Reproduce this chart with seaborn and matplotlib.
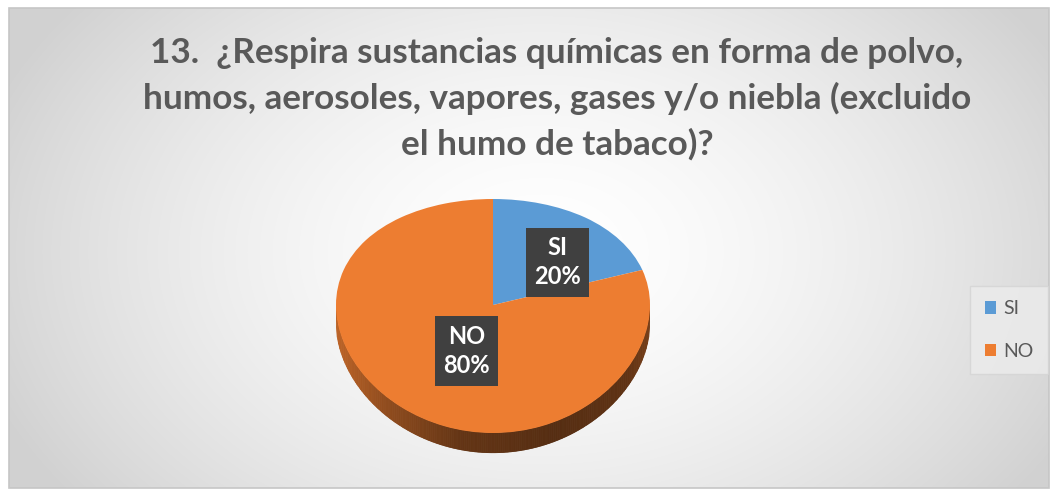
import numpy as np
import matplotlib
matplotlib.use("Agg")
import matplotlib.pyplot as plt
import seaborn as sns
from matplotlib.patches import Rectangle, Patch
from matplotlib.collections import PolyCollection

sns.set_style("white")
plt.rcParams['font.family'] = ['Lato', 'DejaVu Sans']

categories = ["SI", "NO"]
values = [20, 80]
colors = ["#5B9BD5", "#ED7D31"]
title = "13.  ¿Respira sustancias químicas en forma de polvo,\nhumos, aerosoles, vapores, gases y/o niebla (excluido\nel humo de tabaco)?"

W, H = 1056, 492
fig = plt.figure(figsize=(W / 100, H / 100), dpi=100)

# background with radial gradient and frame
bg = fig.add_axes([0, 0, 1, 1])
bg.set_xlim(0, W)
bg.set_ylim(H, 0)
bg.axis("off")
yy, xx = np.mgrid[0:H, 0:W]
r = np.sqrt(((xx - 540) / 600) ** 2 + ((yy - 250) / 420) ** 2)
g = np.clip(1.0 - 0.18 * r ** 1.6, 0.82, 1.0)
img = np.dstack([g, g, g])
bg.imshow(img, extent=(9, 1049, 488, 8), zorder=0, aspect="auto")
bg.add_patch(Rectangle((9, 8), 1040, 480, fill=False, edgecolor="#c6c6c6", lw=1.2, zorder=1))
bg.text(557, 99, title, ha="center", va="center", fontsize=25.3, fontweight="bold",
        color="#595959", linespacing=1.48)

# pie axes with a perspective-like vertical scale
cx, cy, rx = 493, 305, 157
A, B = 117.0, -11.0  # pixel offset = A*y + B*y^2


def fwd(y):
    return A * y + B * y ** 2


def inv(z):
    return (A - np.sqrt(np.maximum(A ** 2 + 4 * B * z, 0))) / (-2 * B)


ylo, yhi = -1.3, 1.05
ztop, zbot = fwd(yhi), fwd(ylo)
ax = fig.add_axes([(cx - rx) / W, (H - (cy - zbot)) / H, 2 * rx / W, (ztop - zbot) / H])
ax.set_yscale("function", functions=(fwd, inv))
ax.set_xlim(-1, 1)
ax.set_ylim(ylo, yhi)
ax.axis("off")

depth = 0.14
# side of the pie (visible lower half) as shaded strips
n = 240
edges = np.linspace(-1, 1, n + 1)
polys, fcs = [], []
base = np.array(matplotlib.colors.to_rgb(colors[1]))
for x0, x1 in zip(edges[:-1], edges[1:]):
    y0 = -np.sqrt(max(1 - x0 ** 2, 0))
    y1 = -np.sqrt(max(1 - x1 ** 2, 0))
    polys.append([(x0, y0), (x1, y1), (x1, y1 - depth), (x0, y0 - depth)])
    xm = 0.5 * (x0 + x1)
    s = np.interp(xm, [-1, -0.7, -0.2, 0.4, 0.85, 1.0], [0.80, 0.62, 0.42, 0.36, 0.40, 0.50])
    fcs.append(np.clip(base * s, 0, 1))
ax.add_collection(PolyCollection(polys, facecolors=fcs, edgecolors=fcs, linewidths=0.6, zorder=1))

# top surface
wedges, _ = ax.pie(values, colors=colors, startangle=90, counterclock=False, radius=1,
                   wedgeprops=dict(linewidth=0))
for w in wedges:
    w.set_zorder(2)
ax.set_aspect("auto")
ax.set_xlim(-1, 1)
ax.set_ylim(ylo, yhi)

# data labels
total = sum(values)
label_pos = [(0.41, 0.38), (-0.17, -0.38)]
for cat, v, (lx, ly) in zip(categories, values, label_pos):
    ax.text(lx, ly, f"{cat}\n{round(100 * v / total)}%", ha="center", va="center",
            fontsize=17, fontweight="bold", color="white", linespacing=1.35, zorder=5,
            bbox=dict(boxstyle="square,pad=0.35", facecolor="#404040", edgecolor="none"))

# legend
handles = [Patch(facecolor=c, edgecolor="none", label=cat) for c, cat in zip(colors, categories)]
leg = fig.legend(handles=handles, loc="center", bbox_to_anchor=(1009 / W, 1 - 330 / H),
                 frameon=True, fontsize=14, labelcolor="#595959", handlelength=0.6,
                 handleheight=0.6, handletextpad=0.35, labelspacing=1.3, borderpad=0.75,
                 fancybox=False)
leg.get_frame().set_facecolor("#ececec")
leg.get_frame().set_edgecolor("#d4d4d4")

fig.savefig("out.png", dpi=100)
